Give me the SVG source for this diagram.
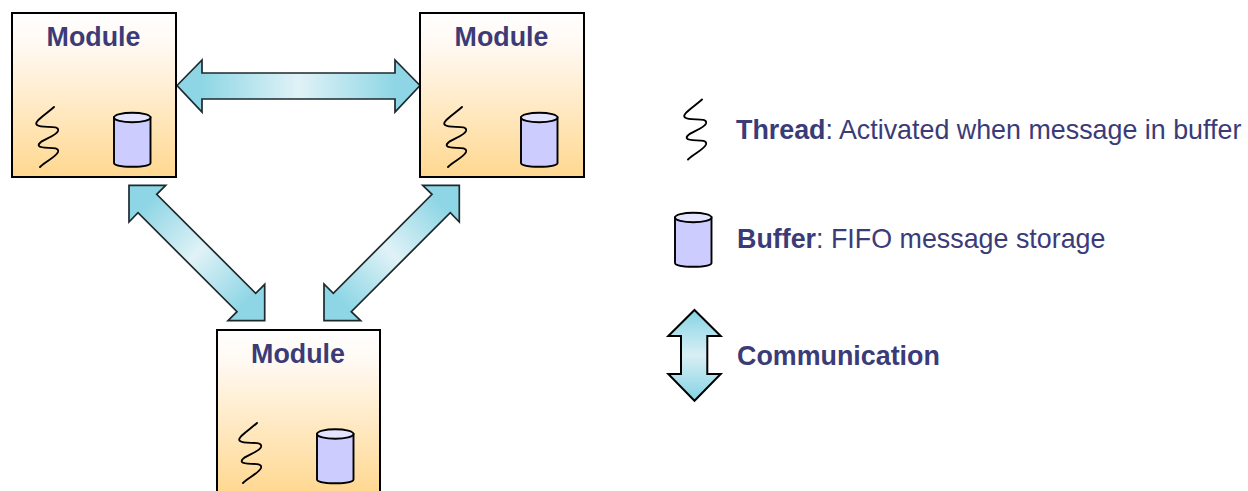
<svg xmlns="http://www.w3.org/2000/svg" width="1248" height="491" viewBox="0 0 1248 491">
<style>
.box{fill:url(#boxFill);stroke:#000;stroke-width:2}
.arrow{stroke:#1c2a2e;stroke-width:1.7;stroke-linejoin:miter}
.thread{fill:none;stroke:#000;stroke-width:1.9;stroke-linecap:round}
.cyl{fill:#ccccff;stroke:#000;stroke-width:1.9}
text{font-family:"Liberation Sans",Arial,sans-serif;fill:#3b3b78}
.title{font-size:26.8px;font-weight:700;text-anchor:middle}
.legend{font-size:26.85px}
.b{font-weight:700}
</style>
<defs>
<linearGradient id="boxFill" x1="0" y1="0" x2="0" y2="1"><stop offset="0" stop-color="#ffffff"/><stop offset="0.2" stop-color="#fff9f2"/><stop offset="1" stop-color="#ffd890"/></linearGradient>
<linearGradient id="gH" gradientUnits="userSpaceOnUse" x1="177" y1="0" x2="420" y2="0"><stop offset="0.1" stop-color="#8ed6e5"/><stop offset="0.5" stop-color="#e0f2f7"/><stop offset="0.9" stop-color="#8ed6e5"/></linearGradient>
<linearGradient id="gD1" gradientUnits="userSpaceOnUse" x1="147" y1="204" x2="247" y2="302"><stop offset="0" stop-color="#8ed6e5"/><stop offset="0.5" stop-color="#e0f2f7"/><stop offset="1" stop-color="#8ed6e5"/></linearGradient>
<linearGradient id="gD2" gradientUnits="userSpaceOnUse" x1="441" y1="204" x2="342" y2="302"><stop offset="0" stop-color="#8ed6e5"/><stop offset="0.5" stop-color="#e0f2f7"/><stop offset="1" stop-color="#8ed6e5"/></linearGradient>
<linearGradient id="gV" gradientUnits="userSpaceOnUse" x1="0" y1="310" x2="0" y2="400"><stop offset="0.05" stop-color="#8ed6e5"/><stop offset="0.5" stop-color="#d8eff5"/><stop offset="0.95" stop-color="#8ed6e5"/></linearGradient>
<path id="thread" class="thread" d="M54 107C45 115 33 122 37 125C42 129 60 124 58 131C56 137 36 141 39 146C42 150 60 145 58 152C56 157 46 161 40 167"/>
<g id="cyl">
<path class="cyl" d="M114 117.500V163C114 168 150.500 168 150.500 163V117.500Z"/>
<ellipse cx="132.250" cy="117.500" rx="18.250" ry="4.800" fill="#e4e4ff" stroke="#000" stroke-width="1.900"/>
</g>
</defs>
<g id="connectors">
<path class="arrow" fill="url(#gH)" d="M177 85.500L202 60V73H395V60L420 85.500L395 112V99H202V112Z"/>
<path class="arrow" fill="url(#gD1)" d="M129 185.300H165.700L156.700 194.300L255.700 293.300L264.700 284.300V320.700H228L237 311.700L138 212.700L129 222Z"/>
<path class="arrow" fill="url(#gD2)" d="M459.300 185.300H422.700L432 194.300L333.300 293.300L324 284V320.700H360.700L351.300 311.700L450.300 212.700L459.300 222Z"/>
</g>
<g id="module-left">
<rect class="box" x="12" y="13" width="164" height="164"/>
<text class="title" x="93.500" y="46">Module</text>
<use href="#thread"/><use href="#cyl"/>
</g>
<g id="module-right">
<rect class="box" x="420" y="13" width="164" height="164"/>
<text class="title" x="501.500" y="46">Module</text>
<use href="#thread" x="408"/><use href="#cyl" x="407"/>
</g>
<g id="module-bottom">
<rect class="box" x="217" y="330" width="163" height="164"/>
<text class="title" x="298" y="363">Module</text>
<use href="#thread" x="203" y="316"/><use href="#cyl" x="203" y="316.500"/>
</g>
<g id="legend-thread">
<use href="#thread" x="648" y="-7.500"/>
<text class="legend" x="736" y="139"><tspan class="b">Thread</tspan>: Activated when message in buffer</text>
</g>
<g id="legend-buffer">
<use href="#cyl" x="561" y="100"/>
<text class="legend" x="737" y="248"><tspan class="b">Buffer</tspan>: FIFO message storage</text>
</g>
<g id="legend-communication">
<path class="arrow" style="stroke:#000;stroke-width:2" fill="url(#gV)" d="M694.500 310L720.700 336H707.300V374H720.700L694.500 400.700L668.300 374H681V336H668.300Z"/>
<text class="legend b" x="737" y="365">Communication</text>
</g>
</svg>
